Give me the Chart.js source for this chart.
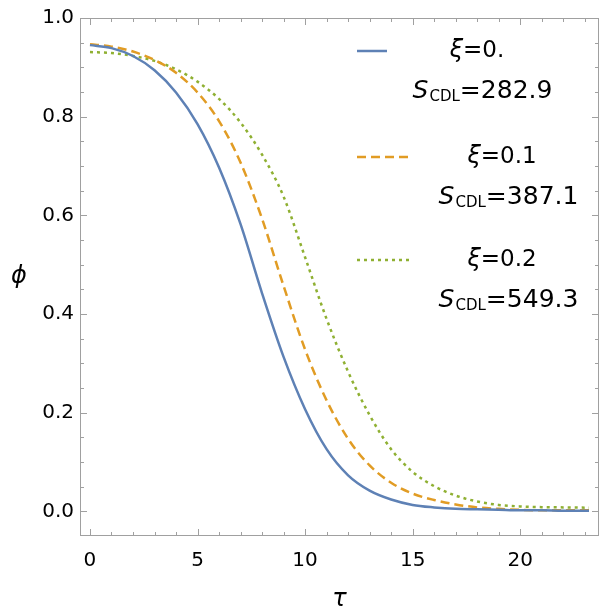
<!DOCTYPE html>
<html>
<head>
<meta charset="utf-8">
<script src="https://cdn.jsdelivr.net/npm/chart.js@4"></script>
<style>
html, body { margin: 0; padding: 0; background: #fff; }
#wrap { width: 600px; height: 615px; }
</style>
</head>
<body>
<div id="wrap"><canvas id="grafico" width="600" height="615"></canvas></div>
<script>
// valores
const tau = [0, 1, 2, 3, 4, 5, 6, 7, 8, 9, 10, 11, 12, 13, 14, 15, 16, 17, 18, 19, 20, 21, 22, 23, 23.2];
const phiXi0 = [0.945, 0.939, 0.923, 0.894, 0.849, 0.785, 0.697, 0.582, 0.442, 0.313, 0.207, 0.126, 0.073, 0.042, 0.024, 0.013, 0.008, 0.005, 0.004, 0.003, 0.002, 0.002, 0.001, 0.001, 0.001];
const phiXi01 = [0.947, 0.942, 0.932, 0.915, 0.889, 0.849, 0.791, 0.707, 0.593, 0.457, 0.328, 0.225, 0.147, 0.093, 0.058, 0.036, 0.023, 0.014, 0.008, 0.005, 0.003, 0.002, 0.002, 0.002, 0.002];
const phiXi02 = [0.931, 0.929, 0.923, 0.913, 0.896, 0.871, 0.836, 0.788, 0.723, 0.638, 0.515, 0.390, 0.283, 0.195, 0.126, 0.080, 0.051, 0.032, 0.020, 0.013, 0.010, 0.0085, 0.008, 0.0075, 0.0075];

const xiLabels = ['0.', '0.1', '0.2'];
const sCdl = ['282.9', '387.1', '549.3'];
const xTicks = [0, 5, 10, 15, 20];
const yTicks = [0, 0.2, 0.4, 0.6, 0.8, 1.0];

const cores = ['#5E81B5', '#E19C24', '#8FB032'];
const tracos = [[], [9, 5], [3, 4]];
const fonte = '"DejaVu Sans", Verdana, sans-serif';

function pontos(ys) {
    return tau.map((t, i) => ({ x: t, y: ys[i] }));
}

function escreverS(ctx, cx, base, valor) {
    ctx.textBaseline = 'alphabetic';
    ctx.textAlign = 'left';
    ctx.font = 'italic 25px ' + fonte;
    const wS = ctx.measureText('S').width;
    ctx.font = '15px ' + fonte;
    const wSub = ctx.measureText('CDL').width;
    ctx.font = '25px ' + fonte;
    const wV = ctx.measureText('=' + valor).width;
    let x = cx - (wS + wSub + wV) / 2;
    ctx.font = 'italic 25px ' + fonte;
    ctx.fillText('S', x, base);
    x += wS + 1;
    ctx.font = '15px ' + fonte;
    ctx.fillText('CDL', x, base + 3);
    x += wSub;
    ctx.font = '25px ' + fonte;
    ctx.fillText('=' + valor, x, base);
}

const moldura = {
    id: 'moldura',
    afterDraw(chart) {
        const ctx = chart.ctx;
        const a = chart.chartArea;
        const sx = chart.scales.x;
        const sy = chart.scales.y;
        ctx.save();
        ctx.strokeStyle = '#a0a0a0';
        ctx.lineWidth = 1;
        ctx.strokeRect(a.left + 0.5, a.top + 0.5, a.right - a.left - 1, a.bottom - a.top - 1);

        ctx.beginPath();
        for (let v = 0; v <= 23; v++) {
            const px = Math.round(sx.getPixelForValue(v)) + 0.5;
            const len = v % 5 === 0 ? 7 : 4;
            ctx.moveTo(px, a.bottom); ctx.lineTo(px, a.bottom - len);
            ctx.moveTo(px, a.top); ctx.lineTo(px, a.top + len);
        }
        for (let k = 0; k <= 20; k++) {
            const v = k * 0.05;
            const py = Math.round(sy.getPixelForValue(v)) + 0.5;
            const len = k % 4 === 0 ? 7 : 4;
            ctx.moveTo(a.left, py); ctx.lineTo(a.left + len, py);
            ctx.moveTo(a.right, py); ctx.lineTo(a.right - len, py);
        }
        ctx.stroke();

        // titulos dos eixos
        ctx.fillStyle = '#000';
        ctx.font = 'italic 24px ' + fonte;
        ctx.textAlign = 'center';
        ctx.textBaseline = 'middle';
        ctx.fillText('\u03D5', 19, (a.top + a.bottom) / 2);
        ctx.fillText('\u03C4', (a.left + a.right) / 2, 600);

        // legenda
        const linhas = [
            { y: 51, x2: 387, cXi: 477, cS: 482, base: 98 },
            { y: 157, x2: 413, cXi: 502, cS: 508, base: 204 },
            { y: 260, x2: 413, cXi: 502, cS: 508, base: 307 }
        ];
        linhas.forEach((l, i) => {
            ctx.strokeStyle = cores[i];
            ctx.lineWidth = 2.5;
            ctx.setLineDash(tracos[i]);
            ctx.beginPath();
            ctx.moveTo(357, l.y);
            ctx.lineTo(l.x2, l.y);
            ctx.stroke();
            ctx.setLineDash([]);

            ctx.fillStyle = '#000';
            ctx.textBaseline = 'middle';
            ctx.font = 'italic 24px ' + fonte;
            const w1 = ctx.measureText('\u03BE').width;
            ctx.font = '23px ' + fonte;
            const w2 = ctx.measureText('=' + xiLabels[i]).width;
            let x = l.cXi - (w1 + w2) / 2;
            ctx.textAlign = 'left';
            ctx.font = 'italic 24px ' + fonte;
            ctx.fillText('\u03BE', x, l.y);
            ctx.font = '23px ' + fonte;
            ctx.fillText('=' + xiLabels[i], x + w1, l.y);

            escreverS(ctx, l.cS, l.base, sCdl[i]);
        });
        ctx.restore();
    }
};

const series = [phiXi0, phiXi01, phiXi02];

new Chart(document.getElementById('grafico').getContext('2d'), {
    type: 'scatter',
    data: {
        datasets: series.map((s, i) => ({
            label: '\u03BE=' + xiLabels[i],
            data: pontos(s),
            showLine: true,
            borderColor: cores[i],
            borderWidth: 2.5,
            borderDash: tracos[i],
            pointRadius: 0,
            cubicInterpolationMode: 'monotone',
            fill: false
        }))
    },
    options: {
        responsive: false,
        animation: false,
        devicePixelRatio: 1,
        layout: { padding: { top: 16, right: 1, left: 0, bottom: 0 } },
        plugins: { legend: { display: false }, tooltip: { enabled: false } },
        scales: {
            x: {
                type: 'linear',
                min: -0.464,
                max: 23.664,
                grid: { display: false, drawTicks: false },
                border: { display: false },
                ticks: {
                    autoSkip: false,
                    maxRotation: 0,
                    padding: 13,
                    color: '#000',
                    font: { size: 20, family: fonte },
                    callback: v => String(v)
                },
                afterBuildTicks: scale => { scale.ticks = xTicks.map(v => ({ value: v })); },
                afterFit: scale => { scale.height = 79; }
            },
            y: {
                min: -0.05,
                max: 1.0,
                grid: { display: false, drawTicks: false },
                border: { display: false },
                ticks: {
                    autoSkip: false,
                    padding: 6,
                    color: '#000',
                    font: { size: 20, family: fonte },
                    callback: v => v.toFixed(1)
                },
                afterBuildTicks: scale => { scale.ticks = yTicks.map(v => ({ value: v })); },
                afterFit: scale => { scale.width = 80; }
            }
        }
    },
    plugins: [moldura]
});
</script>
</body>
</html>
